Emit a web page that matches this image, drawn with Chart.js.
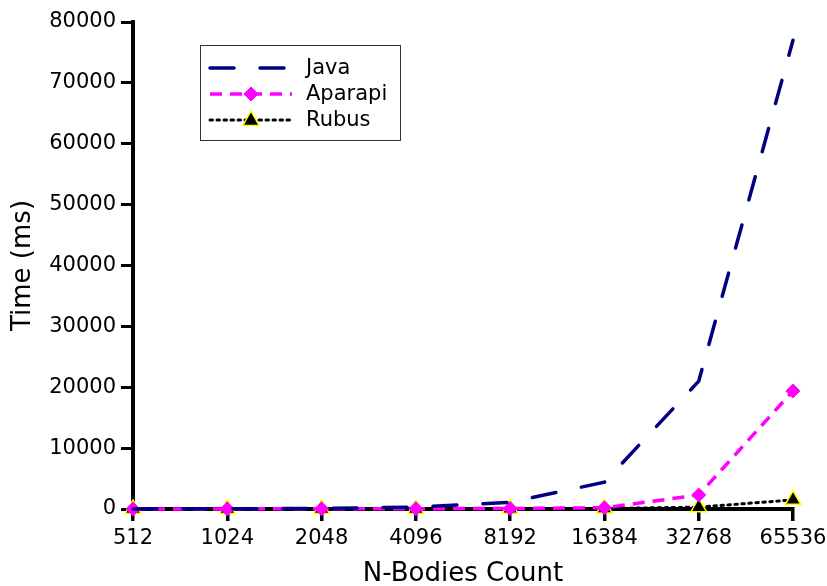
<!DOCTYPE html>
<html>
<head>
<meta charset="utf-8">
<script src="https://cdn.jsdelivr.net/npm/chart.js@4/dist/chart.umd.min.js"></script>
<style>
  html, body { margin: 0; padding: 0; background: #fff; }
  #wrap { width: 827px; height: 586px; }
</style>
</head>
<body>
<div id="wrap"><canvas id="chart" width="827" height="586"></canvas></div>
<script>
// values (ms)
const categories = ['512', '1024', '2048', '4096', '8192', '16384', '32768', '65536'];
const javaTimes = [20, 40, 100, 300, 1100, 4400, 21000, 77000];
const aparapiTimes = [10, 20, 30, 50, 80, 200, 2300, 19400];
const rubusTimes = [5, 10, 15, 20, 40, 80, 300, 1500];
const yTicks = [0, 10000, 20000, 30000, 40000, 50000, 60000, 70000, 80000];

const FONT = 'DejaVu Sans';

// legend drawn inside the plot, gnuplot style
const boxLegend = {
  id: 'boxLegend',
  afterDraw(chart) {
    const ctx = chart.ctx;
    const a = chart.chartArea;
    const x0 = a.left + 67, y0 = a.top + 23, w = 200, h = 95;
    ctx.save();
    ctx.strokeStyle = '#333';
    ctx.lineWidth = 1;
    ctx.strokeRect(x0 + 0.5, y0 + 0.5, w, h);
    ctx.font = '21px ' + FONT;
    ctx.textBaseline = 'middle';
    chart.data.datasets.forEach((ds, i) => {
      const y = y0 + 23 + i * 26;
      const lx = x0 + 10, rx = x0 + 92;
      ctx.strokeStyle = ds.borderColor;
      ctx.lineWidth = ds.borderWidth;
      ctx.setLineDash(ds.borderDash || []);
      ctx.lineCap = ds.borderCapStyle || 'butt';
      ctx.beginPath();
      ctx.moveTo(lx, y);
      ctx.lineTo(rx, y);
      ctx.stroke();
      ctx.setLineDash([]);
      if (ds.pointRadius > 0) {
        const cx = (lx + rx) / 2;
        const r = ds.pointRadius;
        ctx.fillStyle = ds.pointBackgroundColor;
        ctx.strokeStyle = ds.pointBorderColor;
        ctx.lineWidth = ds.pointBorderWidth;
        ctx.beginPath();
        if (ds.pointStyle === 'rectRot') {
          ctx.moveTo(cx, y - r); ctx.lineTo(cx + r, y); ctx.lineTo(cx, y + r); ctx.lineTo(cx - r, y);
        } else {
          ctx.moveTo(cx, y - r); ctx.lineTo(cx + r * 0.9, y + r * 0.6); ctx.lineTo(cx - r * 0.9, y + r * 0.6);
        }
        ctx.closePath();
        ctx.fill();
        ctx.stroke();
      }
      ctx.fillStyle = '#000';
      ctx.fillText(ds.label, x0 + 106, y + 1);
    });
    ctx.restore();
  }
};

new Chart(document.getElementById('chart'), {
  type: 'line',
  data: {
    labels: categories,
    datasets: [
      {
        label: 'Java',
        data: javaTimes,
        borderColor: '#000080',
        borderWidth: 3.5,
        borderDash: [24, 26],
        borderCapStyle: 'round',
        pointRadius: 0,
        tension: 0,
        clip: false
      },
      {
        label: 'Aparapi',
        data: aparapiTimes,
        borderColor: '#ff00ff',
        borderWidth: 3.5,
        borderDash: [12, 8],
        borderCapStyle: 'butt',
        pointStyle: 'rectRot',
        pointRadius: 7,
        pointBackgroundColor: '#ff00ff',
        pointBorderColor: '#ff00ff',
        pointBorderWidth: 1,
        tension: 0,
        clip: false
      },
      {
        label: 'Rubus',
        data: rubusTimes,
        borderColor: '#000000',
        borderWidth: 3,
        borderDash: [2.5, 4.5],
        borderCapStyle: 'round',
        pointStyle: 'triangle',
        pointRadius: 9,
        pointBackgroundColor: '#000000',
        pointBorderColor: '#ffff00',
        pointBorderWidth: 1.5,
        tension: 0,
        clip: false
      }
    ]
  },
  options: {
    responsive: false,
    animation: false,
    layout: { padding: { left: 0, right: 34, top: 22, bottom: 0 } },
    plugins: {
      legend: { display: false },
      tooltip: { enabled: false }
    },
    scales: {
      x: {
        offset: false,
        afterFit: (axis) => { axis.height = 77; axis.paddingLeft = 0; axis.paddingRight = 0; },
        grid: { drawOnChartArea: false, drawTicks: true, tickLength: 12, color: '#000', lineWidth: 3.5 },
        border: { display: true, color: '#000', width: 4 },
        ticks: { color: '#000', font: { family: FONT, size: 21 }, padding: 5, maxRotation: 0, autoSkip: false },
        title: { display: true, text: 'N-Bodies Count', color: '#000', font: { family: FONT, size: 26 }, padding: { top: 4, bottom: -4 } }
      },
      y: {
        min: 0,
        max: 80000,
        afterBuildTicks: (axis) => { axis.ticks = yTicks.map(v => ({ value: v })); },
        afterFit: (axis) => { axis.width = 133; axis.paddingTop = 0; axis.paddingBottom = 0; },
        grid: { drawOnChartArea: false, drawTicks: true, tickLength: 12, color: '#000', lineWidth: 3 },
        border: { display: true, color: '#000', width: 4 },
        ticks: { color: '#000', font: { family: FONT, size: 21 }, padding: 5, callback: v => String(v) },
        title: { display: true, text: 'Time (ms)', color: '#000', font: { family: FONT, size: 26 }, padding: { top: 8, bottom: 6 } }
      }
    }
  },
  plugins: [boxLegend]
});
</script>
</body>
</html>
